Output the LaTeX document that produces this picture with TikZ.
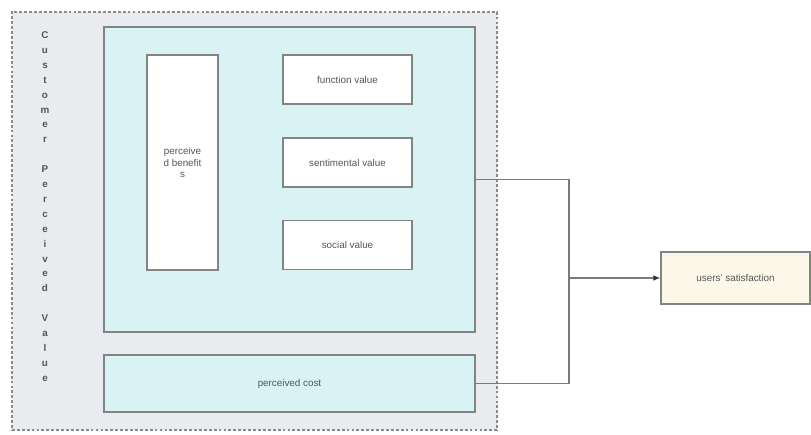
\documentclass[tikz,border=0pt]{standalone}
\usepackage{fontspec}
\setmainfont{Liberation Sans}
\usetikzlibrary{arrows.meta}

\definecolor{panelgray}{HTML}{E9EBEF}
\definecolor{dashgray}{HTML}{8A8A8A}
\definecolor{lightcyan}{HTML}{D9F3F4}
\definecolor{boxline}{HTML}{7E8585}
\definecolor{textgray}{HTML}{555555}
\definecolor{creamy}{HTML}{FBF8EA}
\definecolor{wiregray}{HTML}{7A7A7A}

\begin{document}
\begin{tikzpicture}[x=0.025cm, y=-0.025cm,
    box/.style={draw=boxline, line width=0.9pt, inner sep=1pt, align=center,
        text=textgray, font=\fontsize{7}{8.5}\selectfont},
    wire/.style={draw=wiregray, line width=0.8pt}]
    \useasboundingbox (0,0) rectangle (811,435);

    % panels
    \node[draw=dashgray, dash pattern=on 2pt off 1.5pt, line width=0.9pt, fill=panelgray, minimum width=12.125cm, minimum height=10.45cm] (outer) at (254.5,221) {};
    \node[text=textgray, align=center, font=\fontsize{7}{10.6}\selectfont\bfseries] (title) at (45,206.5)
        {C\\u\\s\\t\\o\\m\\e\\r\\ \\P\\e\\r\\c\\e\\i\\v\\e\\d\\ \\V\\a\\l\\u\\e};
    \node[box, fill=lightcyan, minimum width=9.275cm, minimum height=7.625cm] (benefits) at (289.5,179.5) {};
    \node[box, fill=lightcyan, minimum width=9.275cm, minimum height=1.425cm] (cost) at (289.5,383.5) {perceived cost};

    % inner boxes
    \node[box, fill=white, minimum width=1.775cm, minimum height=5.375cm] (pb) at (182.5,162.5) {perceive\\d benefit\\s};
    \node[box, fill=white, minimum width=3.225cm, minimum height=1.225cm] (fv) at (347.5,79.5) {function value};
    \node[box, fill=white, minimum width=3.225cm, minimum height=1.225cm] (sv) at (347.5,162.5) {sentimental value};
    \node[box, fill=white, minimum width=3.225cm, minimum height=1.225cm] (so) at (347.5,245) {social value};

    \node[box, fill=creamy, minimum width=3.725cm, minimum height=1.3cm] (sat) at (735.5,278) {users' satisfaction};

    % connectors
    \coordinate (jn) at (569,278);
    \draw[wire] (benefits.east) -| (jn) |- (cost.east);
    \draw[wire, -{Latex[length=5pt,width=4pt,color=black!80]}] (jn) -- (sat.west);
\end{tikzpicture}
\end{document}
